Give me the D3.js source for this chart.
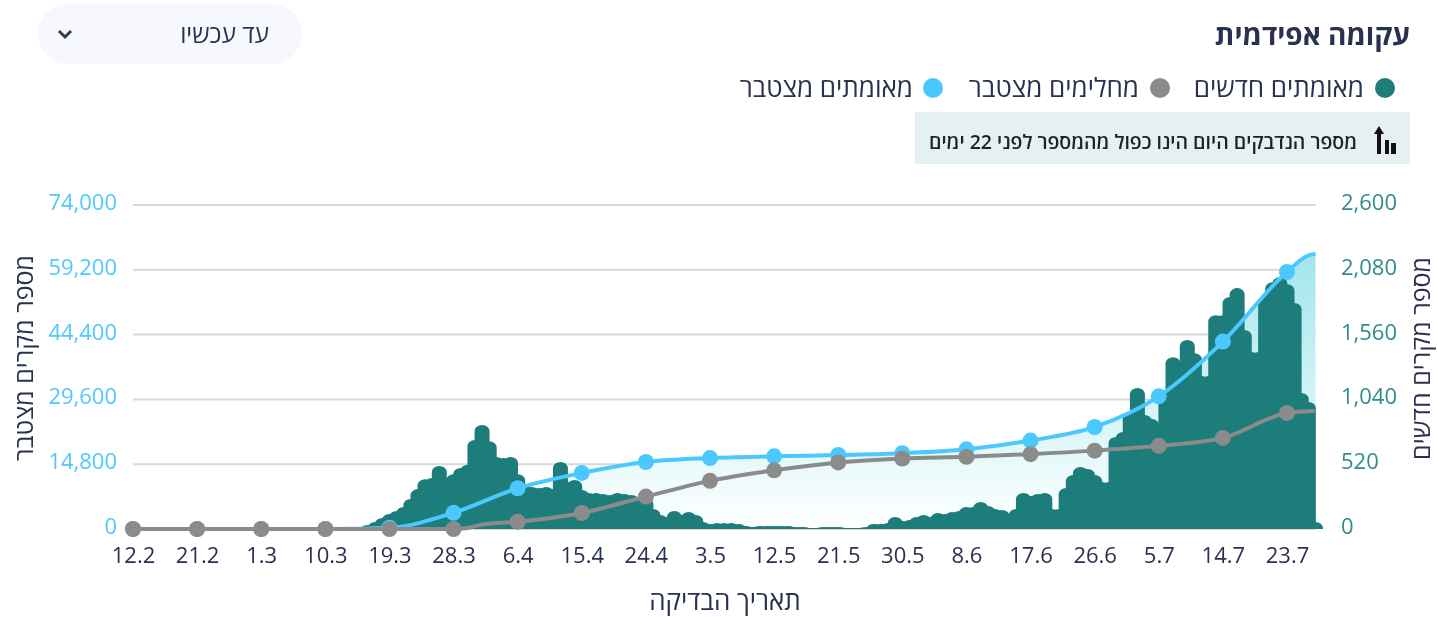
<!DOCTYPE html>
<html lang="he">
<head>
    <meta charset="utf-8">
    <script src="https://d3js.org/d3.v7.min.js"></script>
    <style>
        html, body { margin: 0; background: #fff; }
        svg { display: block; font-family: "Open Sans", "Liberation Sans", sans-serif; filter: blur(0.5px); }
        .he { direction: rtl; text-anchor: start; fill: #2a3150; }
        .axis .domain, .axis line { display: none; }
        .axis text { font-family: "Open Sans", sans-serif; font-size: 22px; }
    </style>
</head>
<body>
<div id="chart"></div>
<script>
    const tickLabels = ['12.2','21.2','1.3','10.3','19.3','28.3','6.4','15.4','24.4','3.5','12.5','21.5','30.5','8.6','17.6','26.6','5.7','14.7','23.7'];
    const tickDays = d3.range(0, 163, 9);

    // new cases per day, day 0 = 12.2
    const newCases = [
        0,0,0,0,0,0,0,0,0,0,0,0,0,0,0,0,0,0,0,0,0,0,0,0,0,0,0,0,0,
        8,8,16,16,32,56,88,120,144,176,240,320,400,410,505,400,440,490,515,715,835,
        705,578,570,578,440,353,337,329,337,320,537,377,393,313,289,289,281,273,289,281,
        273,257,249,160,112,96,144,112,136,112,56,40,48,48,48,40,24,16,24,24,
        24,24,24,16,16,8,8,16,16,16,8,8,8,16,40,40,48,96,64,72,
        96,112,96,128,120,136,144,176,176,217,185,160,152,120,160,289,265,281,289,160,
        160,329,433,497,481,433,377,377,738,778,938,1131,914,882,818,1083,1379,1323,1516,1411,
        1228,1228,1716,1716,1861,1933,1596,1420,1420,1861,1981,2021,1965,1813,1091,1019,56
    ];

    // cumulative series, read at the marker dates plus a few extra days
    const confirmedDays = [0,9,18,27,36,45,54,63,72,81,90,99,108,117,126,135,144,153,162,165,166];
    const confirmedCum = [0,0,0,0,300,3700,9300,12800,15300,16200,16600,16900,17300,18200,20200,23300,30300,42800,58700,62500,62800];
    const recoveredDays = [0,9,18,27,36,45,47,49,54,63,72,81,90,99,108,117,126,135,144,153,162,165,166];
    const recoveredCum = [0,0,0,0,0,0,250,1050,1650,3650,7400,11000,13400,15200,16100,16500,17100,17900,19000,20800,26500,26900,27000];

    const leftTicks = [0,14800,29600,44400,59200,74000];
    const rightTicks = [0,520,1040,1560,2080,2600];

    const width = 1437, height = 617;
    const teal = '#1c7d7b', blue = '#4bc9ff', grey = '#8b8b8b';

    const x = d3.scaleLinear().domain([0, 162]).range([133, 1287]);
    const yLeft = d3.scaleLinear().domain([0, 74000]).range([529, 205]);
    const yRight = d3.scaleLinear().domain([0, 2600]).range([529, 205]);

    const svg = d3.select('#chart').append('svg')
        .attr('width', width).attr('height', height);

    const grad = svg.append('defs').append('linearGradient')
        .attr('id', 'cumFill').attr('x1', 0).attr('x2', 0).attr('y1', 0).attr('y2', 1);
    grad.append('stop').attr('offset', 0).attr('stop-color', '#a2e6ec');
    grad.append('stop').attr('offset', 1).attr('stop-color', '#ffffff');

    // header
    svg.append('rect').attr('x', 38).attr('y', 4).attr('width', 264).attr('height', 60)
        .attr('rx', 30).attr('fill', '#f6f8fd');
    svg.append('path').attr('d', 'M59 31 L65 37 L71 31')
        .attr('fill', 'none').attr('stroke', '#333a52').attr('stroke-width', 3);
    svg.append('text').attr('class', 'he').attr('x', 269).attr('y', 43)
        .style('font-size', '24.5px').text('עד עכשיו');
    svg.append('text').attr('class', 'he').attr('x', 1410).attr('y', 45)
        .style('font-size', '28px').style('font-weight', 700).text('עקומה אפידמית');

    // legend
    const legend = [
        {cx: 1385, tx: 1364, color: teal, label: 'מאומתים חדשים'},
        {cx: 1160, tx: 1139, color: grey, label: 'מחלימים מצטבר'},
        {cx: 933, tx: 913, color: blue, label: 'מאומתים מצטבר'}
    ];
    const lg = svg.append('g').selectAll('g').data(legend).enter().append('g');
    lg.append('circle').attr('cx', d => d.cx).attr('cy', 88).attr('r', 10).attr('fill', d => d.color);
    lg.append('text').attr('class', 'he').attr('x', d => d.tx).attr('y', 97)
        .style('font-size', '26px').text(d => d.label);

    // note box
    svg.append('rect').attr('x', 915).attr('y', 112).attr('width', 495).attr('height', 52).attr('fill', '#e5f0f2');
    svg.append('text').attr('class', 'he').attr('x', 1357).attr('y', 149)
        .style('font-size', '19.5px').style('font-weight', 600).style('fill', '#222')
        .text('מספר הנדבקים היום הינו כפול מהמספר לפני 22 ימים');
    svg.append('path').attr('fill', '#111')
        .attr('d', 'M1379 126 L1384 134 L1381 134 L1381 154 L1377 154 L1377 134 L1374 134 Z M1385 140 h4 v14 h-4 Z M1391 143 h5 v11 h-5 Z');

    // grid
    svg.append('g').selectAll('line').data(rightTicks).enter().append('line')
        .attr('x1', 133).attr('x2', 1316)
        .attr('y1', d => yRight(d)).attr('y2', d => yRight(d))
        .attr('stroke', '#d9d9d9').attr('stroke-width', 2);

    // axes
    const axL = svg.append('g').attr('class', 'axis').attr('transform', 'translate(129,-2.5)')
        .call(d3.axisLeft(yLeft).tickValues(leftTicks).tickSize(0).tickPadding(12).tickFormat(d3.format(',')));
    axL.selectAll('text').attr('fill', '#50c9fb');
    const axR = svg.append('g').attr('class', 'axis').attr('transform', 'translate(1329,-2.5)')
        .call(d3.axisRight(yRight).tickValues(rightTicks).tickSize(0).tickPadding(12).tickFormat(d3.format(',')));
    axR.selectAll('text').attr('fill', '#2f8d8b');
    const axB = svg.append('g').attr('class', 'axis').attr('transform', 'translate(0,539)')
        .call(d3.axisBottom(x).tickValues(tickDays).tickSize(0).tickPadding(8).tickFormat((d, i) => tickLabels[i]));
    axB.selectAll('text').attr('fill', '#2a3150');

    // axis titles
    svg.append('text').attr('class', 'he').attr('transform', 'translate(33,255) rotate(-90)')
        .style('font-size', '25px').text('מספר מקרים מצטבר');
    svg.append('text').attr('class', 'he').attr('transform', 'translate(1430,257) rotate(-90)')
        .style('font-size', '25px').text('מספר מקרים חדשים');
    svg.append('text').attr('x', 725).attr('y', 610).attr('text-anchor', 'middle')
        .attr('fill', '#2a3150').style('font-size', '26px').text('תאריך הבדיקה');

    // cumulative area under the confirmed line
    const confirmed = confirmedDays.map((d, i) => ({day: d, v: confirmedCum[i]}));
    const recovered = recoveredDays.map((d, i) => ({day: d, v: recoveredCum[i]}));

    svg.append('path').datum(confirmed)
        .attr('fill', 'url(#cumFill)')
        .attr('d', d3.area().curve(d3.curveMonotoneX)
            .x(d => x(d.day)).y0(yLeft(0)).y1(d => yLeft(d.v)));

    // bars with round tops, they overlap their neighbours
    const barHalf = 7.5;
    svg.append('g').selectAll('path').data(newCases.map((v, i) => ({day: i, v: v})).filter(d => d.v > 0))
        .enter().append('path')
        .attr('fill', teal)
        .attr('d', d => {
            const c = x(d.day), top = yRight(d.v), base = yRight(0);
            const ry = Math.min(6, base - top);
            return `M${c - barHalf},${base}V${top + ry}A${barHalf},${ry} 0 0 1 ${c + barHalf},${top + ry}V${base}Z`;
        });

    // lines and markers
    const drawLine = (data, color) => {
        const line = d3.line().curve(d3.curveMonotoneX).x(d => x(d.day)).y(d => yLeft(d.v));
        svg.append('path').datum(data).attr('fill', 'none').attr('stroke', color)
            .attr('stroke-width', 4).attr('d', line);
    };
    const drawDots = (data, color) => {
        svg.append('g').selectAll('circle').data(data.filter(d => tickDays.includes(d.day)))
            .enter().append('circle')
            .attr('cx', d => x(d.day)).attr('cy', d => yLeft(d.v)).attr('r', 8).attr('fill', color);
    };
    drawLine(confirmed, blue);
    drawLine(recovered, grey);
    drawDots(confirmed, blue);
    drawDots(recovered, grey);
</script>
</body>
</html>
